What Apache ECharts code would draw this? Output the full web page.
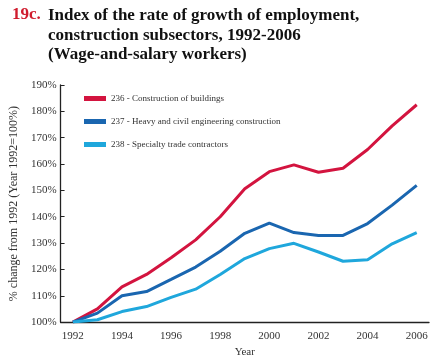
<!DOCTYPE html>
<html><head><meta charset="utf-8">
<script src="https://cdn.jsdelivr.net/npm/echarts@6/dist/echarts.min.js"></script>
<style>html,body{margin:0;padding:0;background:#fff}#c{width:434px;height:363px}</style>
</head><body><div id="c"></div>
<script>
const years = ['1992','1993','1994','1995','1996','1997','1998','1999','2000','2001','2002','2003','2004','2005','2006'];
const seriesNames = ['236 - Construction of buildings','237 - Heavy and civil engineering construction','238 - Specialty trade contractors'];
const buildings = [100,105,113.4,118.1,124.4,131.2,140,150.6,157.1,159.7,156.9,158.4,165.5,174.5,182.5];
const heavyCivil = [100,103.4,110,111.6,116.2,120.9,126.9,133.7,137.6,134,132.9,132.9,137.4,144.4,151.9];
const specialty = [100,100.9,104,105.9,109.4,112.5,118.1,124.1,127.9,129.9,126.6,123.1,123.7,129.7,134];
const colors = ['#d3143f','#1a66b0','#1fa7dc'];
const serif = '"Liberation Serif","DejaVu Serif",serif';

const chart = echarts.init(document.getElementById('c'));
const mk = (name, data, color) => ({
  name, type:'line', data, symbol:'none', smooth:false,
  lineStyle:{width:3, color}, itemStyle:{color}
});
chart.setOption({
  animation:false,
  title:[
    {text:'19c.', left:7, top:1, textStyle:{fontFamily:serif, fontWeight:'bold', fontSize:17, color:'#d01c2e'}},
    {text:'Index of the rate of growth of employment,\nconstruction subsectors, 1992-2006\n(Wage-and-salary workers)', left:43, top:1,
     textStyle:{fontFamily:serif, fontWeight:'bold', fontSize:17, color:'#111', lineHeight:19.5}}
  ],
  legend:{
    orient:'vertical', left:79, top:89, itemGap:14, itemWidth:22, itemHeight:5, icon:'rect',
    textStyle:{fontFamily:serif, fontSize:9, color:'#333'},
    data:seriesNames
  },
  grid:{left:60, right:5, top:85, bottom:38, containLabel:false},
  xAxis:{
    type:'category', data:years, boundaryGap:true,
    name:'Year', nameLocation:'middle', nameGap:24,
    nameTextStyle:{fontFamily:serif, fontSize:11, color:'#333'},
    axisLine:{lineStyle:{color:'#222', width:1.3}},
    axisTick:{inside:true, length:4, interval:0, lineStyle:{color:'#222'}},
    axisLabel:{interval:1, fontFamily:serif, fontSize:11, color:'#333', margin:9},
    splitLine:{show:false}
  },
  yAxis:{
    type:'value', min:100, max:190, interval:10,
    name:'% change from 1992 (Year 1992=100%)', nameLocation:'middle', nameGap:37,
    nameTextStyle:{fontFamily:serif, fontSize:12, color:'#333'},
    axisLine:{show:true, lineStyle:{color:'#222', width:1.3}},
    axisTick:{show:true, inside:true, length:4, lineStyle:{color:'#222'}},
    axisLabel:{formatter:'{value}%', fontFamily:serif, fontSize:11, color:'#333', margin:4},
    splitLine:{show:false}
  },
  series:[
    mk(seriesNames[0], buildings, colors[0]),
    mk(seriesNames[1], heavyCivil, colors[1]),
    mk(seriesNames[2], specialty, colors[2])
  ]
});
</script></body></html>
